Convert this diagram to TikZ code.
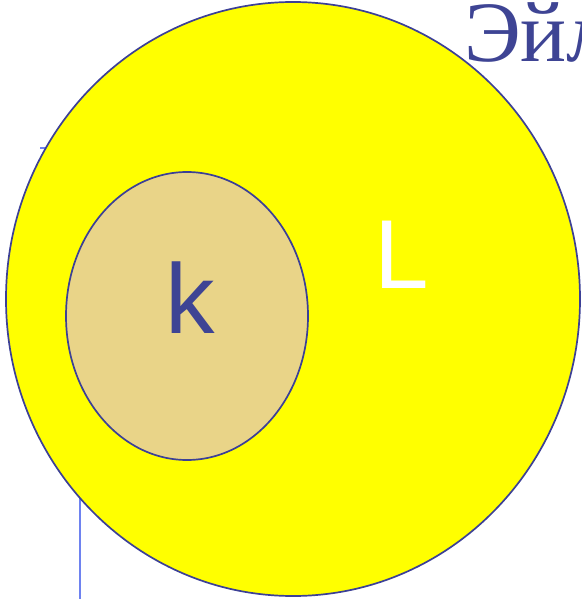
\documentclass[tikz,border=0pt]{standalone}
\usetikzlibrary{shapes.geometric}
\usepackage{fontspec}
\setmainfont{Liberation Serif}
\newfontfamily\arialf{Liberation Sans}
\definecolor{edgeblue}{RGB}{60,64,150}
\definecolor{titleblue}{RGB}{62,68,148}
\definecolor{lineblue}{RGB}{110,130,240}
\definecolor{sandfill}{RGB}{233,212,136}
\definecolor{setyellow}{RGB}{255,255,0}
\tikzset{
  setline/.style={draw=edgeblue, line width=1.7pt},
  guide/.style={draw=lineblue, line width=1.6pt},
}
\begin{document}
\begin{tikzpicture}[x=1pt,y=-1pt]
\useasboundingbox (0,0) rectangle (581,599);
\clip (0,0) rectangle (581,599);
% title text behind the circle (cut off at the edge, as in the reference)
\node[anchor=base west, inner sep=0pt, text=titleblue, font=\fontsize{86}{86}\selectfont] (title) at (464,62) {Эйл};
% guide lines behind
\coordinate (h1) at (40,148);
\coordinate (h2) at (120,148);
\draw[guide] (h1) -- (h2);
\coordinate (v1) at (80,470);
\coordinate (v2) at (80,599);
\draw[guide] (v1) -- (v2);
% big set L
\node[setline, fill=setyellow, shape=ellipse, minimum width=574, minimum height=594, inner sep=0pt] (L) at (293,299) {};
% inner set k
\node[setline, fill=sandfill, shape=ellipse, minimum width=242, minimum height=288, inner sep=0pt] (K) at (187,316) {};
\node[text=titleblue, font=\arialf\fontsize{99}{99}\selectfont, inner sep=0pt, anchor=base] (klab) at (190,333) {k};
\node[text=white, font=\arialf\fontsize{98}{98}\selectfont, inner sep=0pt, anchor=base] (Llab) at (402,288) {L};
\end{tikzpicture}
\end{document}
